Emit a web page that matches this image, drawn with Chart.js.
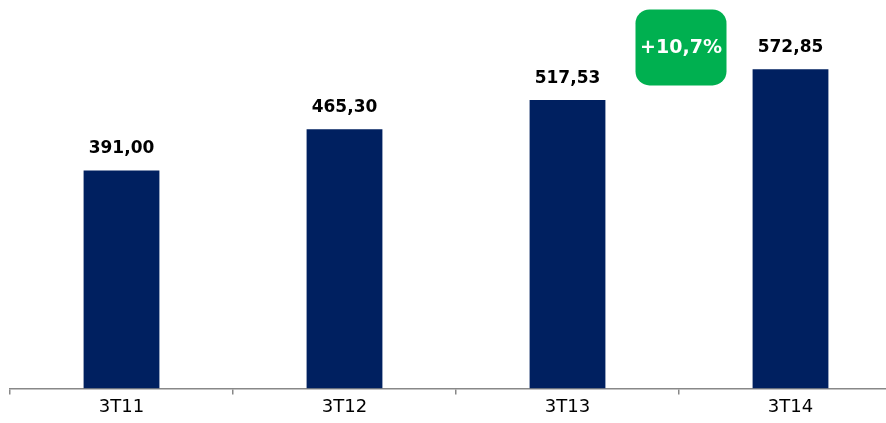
<!DOCTYPE html>
<html>
<head>
<meta charset="utf-8">
<script src="https://cdn.jsdelivr.net/npm/chart.js@4/dist/chart.umd.min.js"></script>
<style>
html,body{margin:0;padding:0;background:#fff;overflow:hidden;width:886px;height:423px;}
canvas{display:block;}
</style>
</head>
<body>
<canvas id="c" width="904" height="423"></canvas>
<script>
const categories = ["3T11", "3T12", "3T13", "3T14"];
const values = [391.00, 465.30, 517.53, 572.85];
const valueLabels = ["391,00", "465,30", "517,53", "572,85"];
const growthLabel = "+10,7%";
const growthLevel = 612;

const FONT = "'DejaVu Sans'";

const labelPlugin = {
  id: 'labels',
  afterDatasetsDraw(chart) {
    const ctx = chart.ctx;
    const meta = chart.getDatasetMeta(0);
    ctx.save();
    ctx.font = 'bold 17px ' + FONT;
    ctx.fillStyle = '#000';
    ctx.textAlign = 'center';
    ctx.textBaseline = 'middle';
    meta.data.forEach((bar, i) => {
      ctx.fillText(valueLabels[i], bar.x, bar.y - 22);
    });
    const xs = chart.scales.x, ys = chart.scales.y;
    const cx = (xs.getPixelForValue(2) + xs.getPixelForValue(3)) / 2 + 2;
    const cy = ys.getPixelForValue(growthLevel);
    const w = 91, h = 76, r = 14;
    ctx.fillStyle = '#00b050';
    ctx.beginPath();
    ctx.roundRect(cx - w/2, cy - h/2, w, h, r);
    ctx.fill();
    ctx.fillStyle = '#fff';
    ctx.font = 'bold 19px ' + FONT;
    ctx.fillText(growthLabel, cx, cy + 1);
    ctx.restore();
  }
};

new Chart(document.getElementById('c'), {
  type: 'bar',
  data: {
    labels: categories,
    datasets: [{
      data: values,
      backgroundColor: '#002060',
      barPercentage: 1,
      categoryPercentage: 0.34
    }]
  },
  options: {
    responsive: false,
    animation: false,
    layout: { padding: { left: 10, right: 2, top: 4, bottom: 3 } },
    plugins: { legend: { display: false }, tooltip: { enabled: false } },
    scales: {
      y: { display: false, min: 0, max: 690 },
      x: {
        offset: true,
        grid: {
          offset: true,
          drawOnChartArea: false,
          drawTicks: true,
          tickLength: 6,
          color: '#888888',
          lineWidth: 1.5
        },
        border: { display: true, color: '#888888', width: 1.5 },
        ticks: {
          color: '#000',
          padding: 2,
          font: { family: FONT, size: 18 }
        }
      }
    }
  },
  plugins: [labelPlugin]
});
</script>
</body>
</html>
